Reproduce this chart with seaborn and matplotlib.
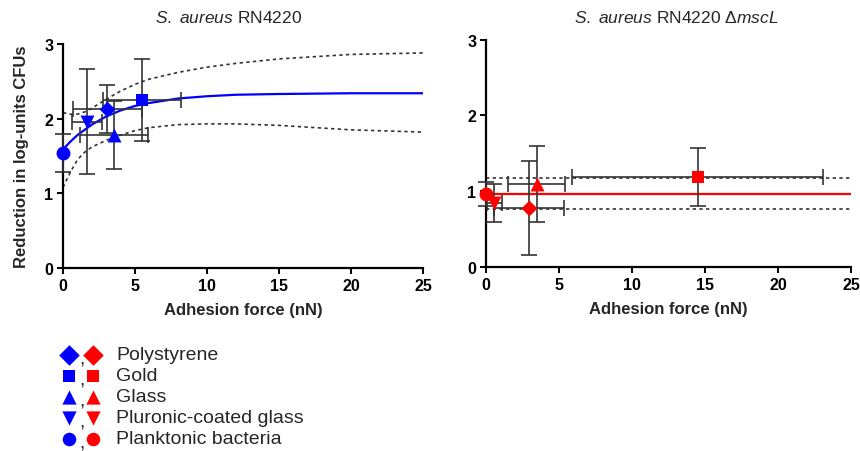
import seaborn as sns
import matplotlib.pyplot as plt

# materials / markers (same order in both panels)
materials = ['Polystyrene', 'Gold', 'Glass', 'Pluronic-coated glass', 'Planktonic bacteria']
markers = ['D', 's', '^', 'v', 'o']
msizes = [65, 70, 100, 100, 100]
leg_sizes = [110, 85, 105, 105, 95]

# S. aureus RN4220
wt_force = [3.08, 5.46, 3.54, 1.65, 0.0]
wt_force_err = [2.4, 2.7, 2.35, 1.05, 0.0]
wt_reduction = [2.13, 2.25, 1.78, 1.96, 1.54]
wt_reduction_err = [0.32, 0.55, 0.45, 0.70, 0.26]

# S. aureus RN4220 dmscL
mscl_force = [2.95, 14.5, 3.47, 0.57, 0.0]
mscl_force_err = [2.42, 8.6, 1.94, 0.5, 0.0]
mscl_reduction = [0.78, 1.19, 1.10, 0.84, 0.96]
mscl_reduction_err = [0.62, 0.38, 0.50, 0.25, 0.16]

# fitted curves + confidence bands
fit_x = [0, 0.5, 1, 1.5, 2, 3, 4, 5, 6, 8, 10, 12, 15, 20, 25]
wt_fit = [1.59, 1.69, 1.78, 1.85, 1.92, 2.03, 2.11, 2.17, 2.21, 2.27, 2.30, 2.32, 2.33, 2.34, 2.34]
wt_upper = [2.08, 2.06, 2.06, 2.09, 2.14, 2.26, 2.37, 2.46, 2.53, 2.62, 2.69, 2.74, 2.80, 2.86, 2.88]
wt_lower = [1.08, 1.28, 1.45, 1.55, 1.62, 1.71, 1.78, 1.84, 1.88, 1.92, 1.93, 1.93, 1.91, 1.85, 1.82]

mscl_fit_x = [0, 25]
mscl_fit = [0.96, 0.96]
mscl_upper = [1.18, 1.18]
mscl_lower = [0.765, 0.765]

x_ticks = [0, 5, 10, 15, 20, 25]
y_ticks = [0, 1, 2, 3]

BLUE = '#0000ff'
RED = '#ff0000'
ERR = '#333333'

sns.set_style('ticks')
plt.rcParams['font.family'] = ['Liberation Sans', 'DejaVu Sans']
plt.rcParams['mathtext.fontset'] = 'custom'
plt.rcParams['mathtext.rm'] = 'Liberation Sans'
plt.rcParams['mathtext.it'] = 'Liberation Sans:italic'

fig = plt.figure(figsize=(8.6, 4.52), dpi=100)
ax1 = fig.add_axes([0.0733, 0.4049, 0.4186, 0.4956])
ax2 = fig.add_axes([0.5651, 0.4071, 0.4244, 0.5029])


def draw_panel(ax, fx, fy, up, lo, force, ferr, red, rerr, color):
    sns.lineplot(x=fx, y=up, ax=ax, color='#333333', lw=1.2, linestyle=(0, (2, 2)))
    sns.lineplot(x=fx, y=lo, ax=ax, color='#333333', lw=1.2, linestyle=(0, (2, 2)))
    sns.lineplot(x=fx, y=fy, ax=ax, color=color, lw=1.6)
    for i in range(len(force)):
        ax.errorbar(force[i], red[i], xerr=ferr[i] if ferr[i] > 0 else None,
                    yerr=rerr[i], fmt='none', ecolor=ERR, elinewidth=1.2,
                    capsize=5.5, capthick=1.2, clip_on=False, zorder=3)
        sns.scatterplot(x=[force[i]], y=[red[i]], ax=ax, marker=markers[i],
                        s=msizes[i], color=color, edgecolor=color, linewidth=0,
                        zorder=4, clip_on=False)
    ax.set_xlim(0, 25)
    ax.set_ylim(0, 3)
    ax.set_xticks(x_ticks)
    ax.set_yticks(y_ticks)
    for s in ['top', 'right']:
        ax.spines[s].set_visible(False)
    for s in ['left', 'bottom']:
        ax.spines[s].set_linewidth(1.6)
        ax.spines[s].set_color('black')
    ax.tick_params(direction='out', length=4, width=1.4, pad=3, labelsize=11.5, colors='black')
    for lab in ax.get_xticklabels() + ax.get_yticklabels():
        lab.set_fontweight('bold')
    ax.set_xlabel('Adhesion force (nN)', fontsize=12, fontweight='bold', labelpad=7)


draw_panel(ax1, fit_x, wt_fit, wt_upper, wt_lower, wt_force, wt_force_err,
           wt_reduction, wt_reduction_err, BLUE)
draw_panel(ax2, mscl_fit_x, mscl_fit, mscl_upper, mscl_lower, mscl_force, mscl_force_err,
           mscl_reduction, mscl_reduction_err, RED)

ax1.set_ylabel('Reduction in log-units CFUs', fontsize=12, fontweight='bold', labelpad=11)
ax2.set_ylabel('')

ax1.text(0.461, 1.12, r'$\mathit{S.\ aureus}$ RN4220', transform=ax1.transAxes,
         ha='center', va='center', fontsize=12.5)
ax2.text(0.522, 1.10, r'$\mathit{S.\ aureus}$ RN4220 Δ$\mathit{mscL}$', transform=ax2.transAxes,
         ha='center', va='center', fontsize=12.5)

# legend block, bottom left
axl = fig.add_axes([60 / 860, 2 / 452, 240 / 860, 105 / 452])
axl.set_xlim(-0.375, 9.625)
axl.set_ylim(4.5, -0.5)
axl.axis('off')
rows = list(range(len(materials)))
for i in rows:
    sns.scatterplot(x=[0], y=[i], ax=axl, marker=markers[i], s=leg_sizes[i],
                    color=BLUE, linewidth=0, clip_on=False)
    sns.scatterplot(x=[1], y=[i], ax=axl, marker=markers[i], s=leg_sizes[i],
                    color=RED, linewidth=0, clip_on=False)
    axl.text(0.54, i + 0.2, ',', ha='center', va='center', fontsize=14)
    axl.text(1.96, i, materials[i], ha='left', va='center', fontsize=14)

fig.savefig('out.png', dpi=100)
